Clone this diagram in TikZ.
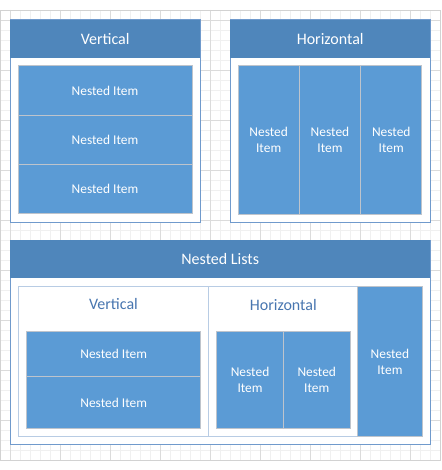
\documentclass[tikz,border=0pt]{standalone}
\usepackage{fontspec}
\setmainfont{Carlito}
\usetikzlibrary{positioning}
\definecolor{headblue}{RGB}{79,134,187}
\definecolor{itemblue}{RGB}{91,155,213}
\definecolor{frameblue}{RGB}{112,154,204}
\definecolor{paleblue}{RGB}{184,204,228}
\definecolor{itemgray}{RGB}{190,196,204}
\definecolor{titleblue}{RGB}{72,118,176}
\tikzset{
    frame/.style={
        rectangle,
        draw=frameblue,
        line width=1pt,
        fill=white,
        anchor=north west,
        inner sep=0pt,
        outer sep=0pt
    },
    header/.style={
        rectangle,
        fill=headblue,
        text=white,
        minimum height=38pt,
        anchor=north west,
        inner sep=0pt,
        font=\fontsize{16}{19}\selectfont
    },
    sublist/.style={
        rectangle,
        draw=paleblue,
        line width=1pt,
        fill=white,
        anchor=north west,
        inner sep=0pt,
        outer sep=0pt
    },
    subtitle/.style={
        text=titleblue,
        inner sep=0pt,
        font=\fontsize{16}{19}\selectfont
    },
    item/.style={
        rectangle,
        draw=itemgray,
        line width=1pt,
        fill=itemblue,
        text=white,
        align=center,
        inner sep=0pt,
        outer sep=0pt,
        font=\fontsize{13.4}{16}\selectfont
    }
}

\begin{document}
\begin{tikzpicture}[x=1pt, y=-1pt]

    \useasboundingbox (0,0) rectangle (441,470);

    % Grid
    \draw[gray!12, line width=0.6pt] (0,10) grid[step=10pt] (440,460);
    \foreach \gx in {10,60,...,410} \draw[gray!28, line width=0.6pt] (\gx,10) -- (\gx,460);
    \foreach \gy in {20,70,...,420} \draw[gray!28, line width=0.6pt] (0,\gy) -- (440,\gy);
    \draw[gray!35, line width=0.8pt] (0,10) rectangle (440,460);

    % Vertical
    \node[frame, minimum width=190pt, minimum height=202pt] (vbox) at (10,20) {};
    \node[header, minimum width=190pt] (vhead) at (vbox.north west) {Vertical};
    \node[item, minimum width=174pt, minimum height=49.3pt, anchor=north west] (v1) at (18,66) {Nested Item};
    \node[item, minimum width=174pt, minimum height=49.3pt, below=0pt of v1] (v2) {Nested Item};
    \node[item, minimum width=174pt, minimum height=49.3pt, below=0pt of v2] (v3) {Nested Item};

    % Horizontal
    \node[frame, minimum width=200pt, minimum height=202pt] (hbox) at (230,20) {};
    \node[header, minimum width=200pt] (hhead) at (hbox.north west) {Horizontal};
    \node[item, minimum width=61.3pt, minimum height=148pt, anchor=north west] (h1) at (238,66) {Nested\\Item};
    \node[item, minimum width=61.3pt, minimum height=148pt, right=0pt of h1] (h2) {Nested\\Item};
    \node[item, minimum width=61.3pt, minimum height=148pt, right=0pt of h2] (h3) {Nested\\Item};

    % Nested Lists
    \node[frame, minimum width=420pt, minimum height=204pt] (nbox) at (10,240) {};
    \node[header, minimum width=420pt] (nhead) at (nbox.north west) {Nested Lists};

    % Nested vertical list
    \node[sublist, minimum width=190.5pt, minimum height=150pt] (nv) at (18,286.7) {};
    \node[subtitle] (nvtitle) at (113.5,304) {Vertical};
    \node[item, minimum width=174pt, minimum height=45pt, anchor=north west] (nv1) at (26.7,331.7) {Nested Item};
    \node[item, minimum width=174pt, minimum height=52pt, below=0pt of nv1] (nv2) {Nested Item};

    % Nested horizontal list
    \node[sublist, minimum width=149.2pt, minimum height=150pt] (nh) at (208.5,286.7) {};
    \node[subtitle] (nhtitle) at (283.3,305) {Horizontal};
    \node[item, minimum width=66.7pt, minimum height=96.7pt, anchor=north west] (nh1) at (216.7,331.7) {Nested\\Item};
    \node[item, minimum width=66.7pt, minimum height=96.7pt, right=0pt of nh1] (nh2) {Nested\\Item};

    % Single item
    \node[item, minimum width=64.4pt, minimum height=150pt, anchor=north west] (ns) at (357.7,286.7) {Nested\\Item};

\end{tikzpicture}
\end{document}
